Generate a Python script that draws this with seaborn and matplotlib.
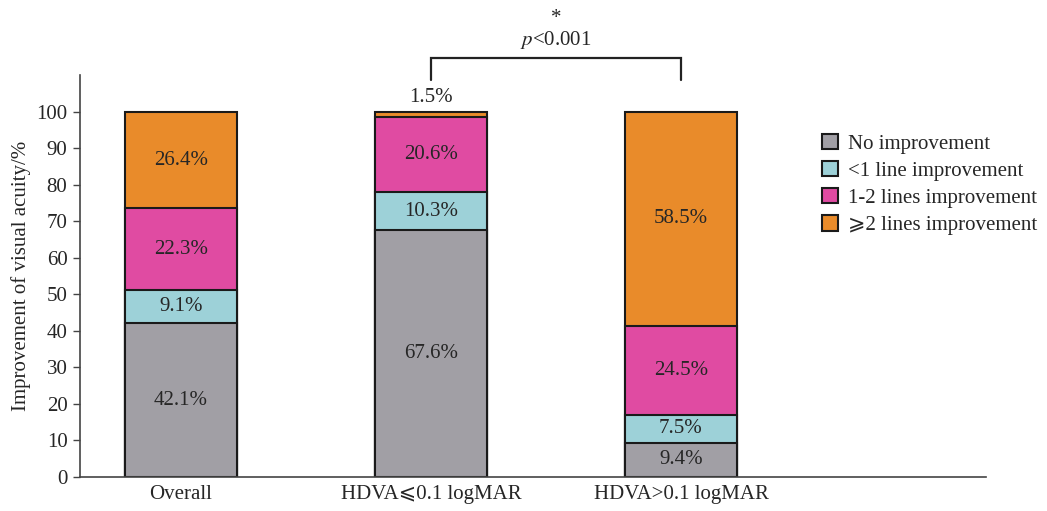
import matplotlib
matplotlib.use('Agg')
import matplotlib.pyplot as plt
import seaborn as sns
import pandas as pnd
from matplotlib.patches import Patch

# ----------------------
groups    = ['Overall', 'HDVA⩽0.1 logMAR', 'HDVA>0.1 logMAR']
levels    = ['No improvement', '<1 line improvement', '1-2 lines improvement', '⩾2 lines improvement']
no_imp    = [42.1, 67.6, 9.4]
lt_one    = [9.1, 10.3, 7.5]
one_two   = [22.3, 20.6, 24.5]
ge_two    = [26.4, 1.5, 58.5]
colors    = ['#a19fa5', '#9dd1d8', '#e04ba2', '#e98b2a']
y_ticks   = list(range(0, 101, 10))
sig_text  = '$p$<0.001'
# ----------------------
sns.set_style('white')
plt.rcParams['font.family'] = ['Liberation Serif', 'DejaVu Serif', 'DejaVu Sans']
plt.rcParams['mathtext.fontset'] = 'stix'

df = pnd.DataFrame({'group': groups, levels[0]: no_imp, levels[1]: lt_one,
                    levels[2]: one_two, levels[3]: ge_two})
cum = df[levels].cumsum(axis=1)

fig = plt.figure(figsize=(10.47, 5.11), dpi=100)
ax = fig.add_axes([0.0764, 0.0665, 0.8653, 0.7865])

# draw from top of stack downwards so lower segments overlay
for lev, col in zip(reversed(levels), reversed(colors)):
    sns.barplot(data=cum.assign(group=df['group']), x='group', y=lev, order=groups,
                color=col, saturation=1, width=0.45, edgecolor='#1a1a1a',
                linewidth=1.5, ax=ax)

fs = 15
for i, g in enumerate(groups):
    base = 0.0
    for lev in levels:
        val = df.loc[i, lev]
        if val < 5:
            ax.text(i, base + val + 1.2, f'{val:.1f}%', ha='center', va='bottom', fontsize=fs)
        else:
            ax.text(i, base + val / 2, f'{val:.1f}%', ha='center', va='center', fontsize=fs)
        base += val

# significance bracket
ax.plot([1, 1, 2, 2], [108.8, 114.8, 114.8, 108.8], color='#222222', lw=1.6,
        clip_on=False, solid_joinstyle='miter')
ax.text(1.5, 116.5, sig_text, ha='center', va='bottom', fontsize=fs, clip_on=False)
ax.text(1.5, 122.8, '*', ha='center', va='bottom', fontsize=fs, clip_on=False)

ax.set_xlim(-0.404, 3.22)
ax.set_ylim(0, 110)
ax.set_yticks(y_ticks)
ax.set_yticklabels([str(t) for t in y_ticks], fontsize=fs)
ax.tick_params(axis='x', labelsize=fs, length=0, pad=6)
ax.tick_params(axis='y', direction='out', length=5, width=1, color='#444444', left=True, pad=4)
ax.set_xlabel('')
ax.set_ylabel('Improvement of visual acuity/%', fontsize=fs)
sns.despine(ax=ax)
for s in ['left', 'bottom']:
    ax.spines[s].set_color('#444444')
    ax.spines[s].set_linewidth(1.2)

handles = [Patch(facecolor=c, edgecolor='#1a1a1a', linewidth=1.5) for c in colors]
ax.legend(handles, levels, loc='upper left', bbox_to_anchor=(0.81, 0.875), frameon=False,
          fontsize=fs, handlelength=0.75, handleheight=0.75, handletextpad=0.5,
          labelspacing=0.35, borderaxespad=0)

fig.savefig('out.png', dpi=100)
